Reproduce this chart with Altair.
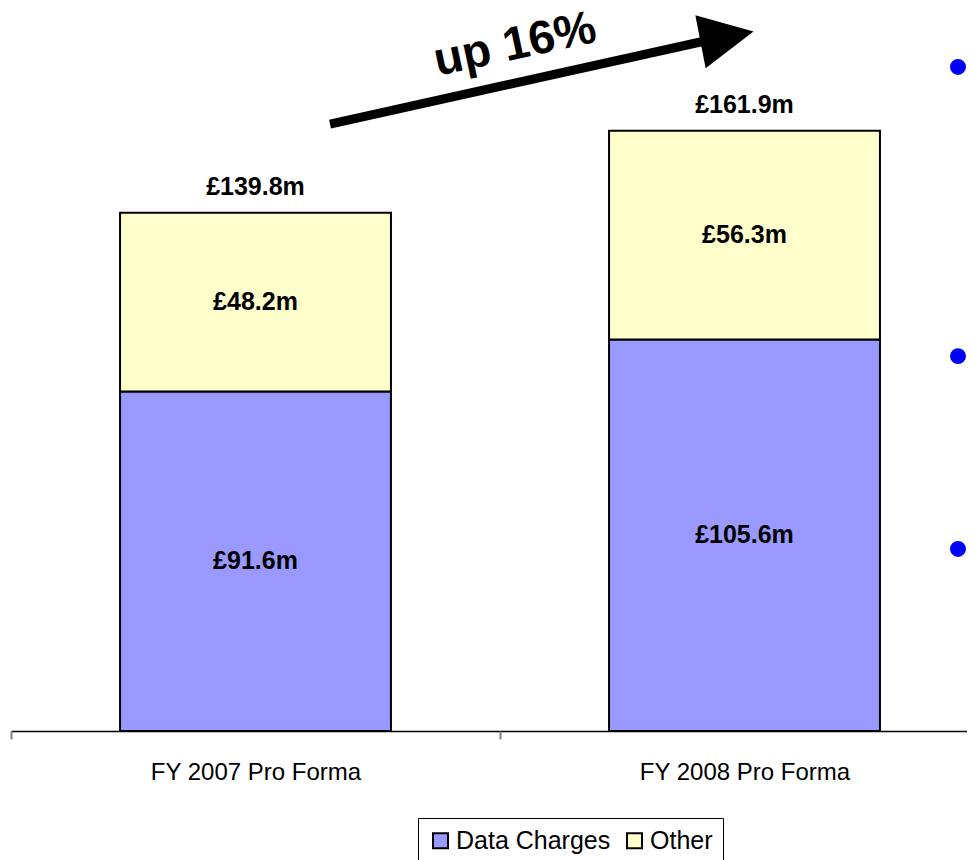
import altair as alt
import pandas as pd

# ---- data ----
categories = ["FY 2007 Pro Forma", "FY 2008 Pro Forma"]
cat_pos = [0.5, 1.5]          # category centres, in category-step units
series = ["Data Charges", "Other"]
data_charges = [91.6, 105.6]
other = [48.2, 56.3]
totals = [139.8, 161.9]
colors = ["#9999FF", "#FFFFCC"]
bar_half_width = 0.277

# annotation (data units: x in category-step units, y in £m)
arrow_x = [0.6524]
arrow_x2 = [1.4192]
arrow_y = [163.7]
arrow_y2 = [186.1]
head_x = [1.4642]
head_y = [187.3]
note_text = ["up 16%"]
note_x = [1.0307]
note_y = [185.0]
bullet_x = [1.9366, 1.9366, 1.9366]
bullet_y = [179.1, 101.1, 49.1]
tick_values = [0, 1, 2]

FONT = "Liberation Sans"
Y_DOMAIN = [0, 195]
W = 956
STEP = 489.0
Q_DOMAIN = [0, W / STEP]

rows = []
for i, c in enumerate(categories):
    base = 0.0
    for s, vals in zip(series, [data_charges, other]):
        v = vals[i]
        rows.append({"category": c, "pos": cat_pos[i],
                     "xa": cat_pos[i] - bar_half_width, "xb": cat_pos[i] + bar_half_width,
                     "series": s, "y0": base, "y1": base + v,
                     "mid": base + v / 2, "label": f"£{v:.1f}m"})
        base += v
seg = pd.DataFrame(rows)
tot = pd.DataFrame({"category": categories, "pos": cat_pos, "total": totals,
                    "label": [f"£{t:.1f}m" for t in totals]})

label_expr = " : ".join(
    [f"datum.value < {p + 0.5} ? '{c}'" for p, c in zip(cat_pos[:-1], categories[:-1])]
    + [f"'{categories[-1]}'"]
)


def yscale():
    return alt.Scale(domain=Y_DOMAIN, nice=False, zero=True)


def xq():
    return alt.Scale(domain=Q_DOMAIN, nice=False, zero=False)


bars = alt.Chart(seg).mark_bar(stroke="black", strokeWidth=2).encode(
    x=alt.X("xa:Q", scale=xq(),
            axis=alt.Axis(title=None, orient="bottom", values=cat_pos, labelExpr=label_expr,
                          labelAngle=0, ticks=False, domainColor="black", domainWidth=1.5,
                          labelFont=FONT, labelFontSize=24, labelColor="black",
                          labelPadding=29, labelLimit=500, labelFlush=False,
                          labelOverlap=False, grid=False)),
    x2="xb:Q",
    y=alt.Y("y0:Q", scale=yscale(), axis=None),
    y2="y1:Q",
    color=alt.Color("series:N", scale=alt.Scale(domain=series, range=colors),
                    legend=alt.Legend(title=None, orient="none", legendX=407, legendY=810,
                                      direction="horizontal", labelFont=FONT,
                                      labelFontSize=25, labelColor="black",
                                      symbolType="square", symbolSize=225,
                                      symbolStrokeColor="black", symbolStrokeWidth=2,
                                      strokeColor="black", fillColor="white",
                                      padding=10, columnPadding=11, labelOffset=3)),
)

seg_text = alt.Chart(seg).mark_text(font=FONT, fontWeight="bold", fontSize=25,
                                     color="black", baseline="middle").encode(
    x=alt.X("pos:Q", scale=xq(), axis=None),
    y=alt.Y("mid:Q", scale=yscale(), axis=None),
    text="label:N",
)

tot_text = alt.Chart(tot).mark_text(font=FONT, fontWeight="bold", fontSize=25,
                                     color="black", baseline="middle", dy=-26).encode(
    x=alt.X("pos:Q", scale=xq(), axis=None),
    y=alt.Y("total:Q", scale=yscale(), axis=None),
    text="label:N",
)

arrow_df = pd.DataFrame({"x": arrow_x, "x2": arrow_x2, "y": arrow_y, "y2": arrow_y2})
rule = alt.Chart(arrow_df).mark_rule(color="black", strokeWidth=9).encode(
    x=alt.X("x:Q", scale=xq(),
            axis=alt.Axis(orient="bottom", values=tick_values, labels=False, domain=False,
                          tickSize=8, tickColor="#808080", tickWidth=2, title=None,
                          grid=False)),
    x2="x2:Q",
    y=alt.Y("y:Q", scale=yscale(), axis=None),
    y2="y2:Q",
)

head_df = pd.DataFrame({"x": head_x, "y": head_y})
head = alt.Chart(head_df).mark_point(shape="M -1 -1 L 1 0 L -1 1 Z", filled=True,
                                     color="black", opacity=1, size=2916,
                                     angle=349).encode(
    x=alt.X("x:Q", scale=xq(), axis=None),
    y=alt.Y("y:Q", scale=yscale(), axis=None),
)

note_df = pd.DataFrame({"x": note_x, "y": note_y, "t": note_text})
note = alt.Chart(note_df).mark_text(font=FONT, fontWeight="bold", fontSize=47,
                                    color="black", angle=348, align="center",
                                    baseline="middle").encode(
    x=alt.X("x:Q", scale=xq(), axis=None),
    y=alt.Y("y:Q", scale=yscale(), axis=None),
    text="t:N",
)

bul_df = pd.DataFrame({"x": bullet_x, "y": bullet_y})
bullets = alt.Chart(bul_df).mark_circle(color="#0000FF", opacity=1, size=254).encode(
    x=alt.X("x:Q", scale=xq(), axis=None),
    y=alt.Y("y:Q", scale=yscale(), axis=None),
)

chart = alt.layer(bars, seg_text, tot_text, rule, head, note, bullets).resolve_scale(
    x="independent"
).properties(
    width=W, height=723,
    autosize=alt.AutoSizeParams(type="none"),
    padding={"left": 3, "top": 0, "right": 0, "bottom": 129},
    background="white",
).configure_view(stroke=None)

chart.save("out.html", embed_options={"renderer": "svg", "actions": False})
